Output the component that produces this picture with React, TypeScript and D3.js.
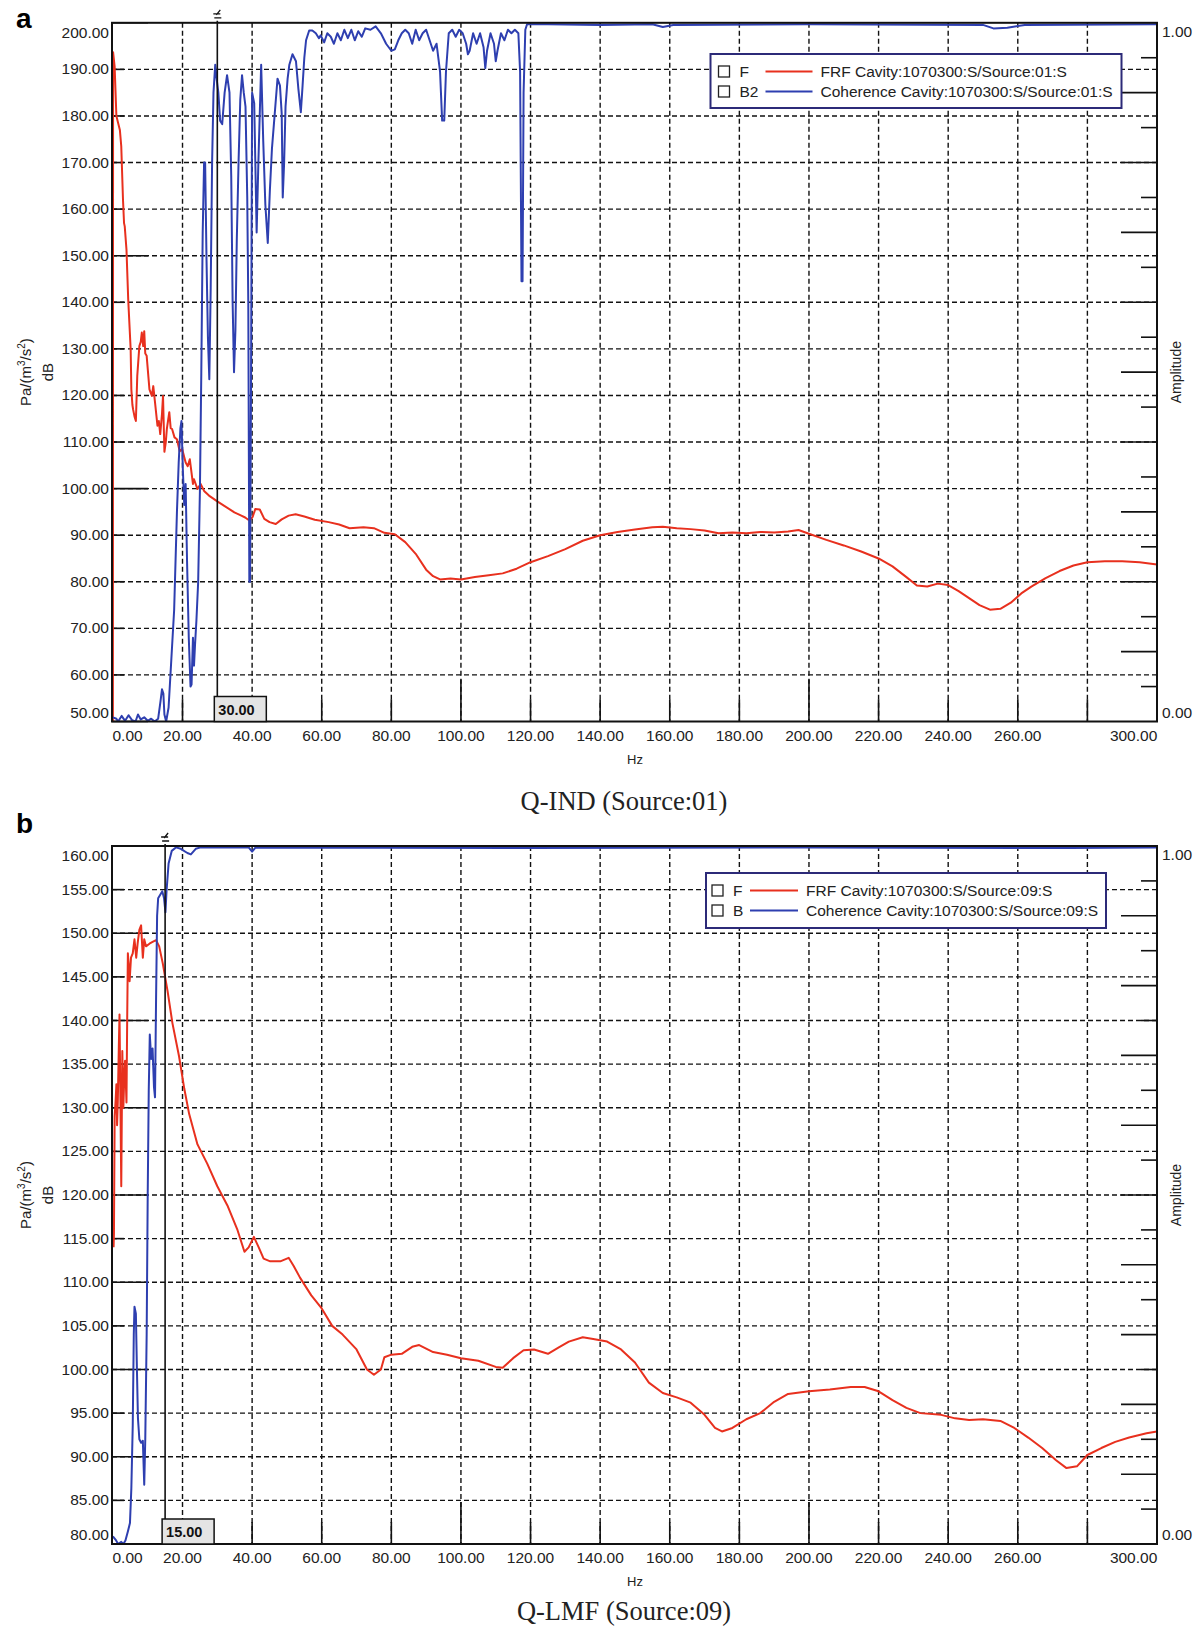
import React from "react";
import * as d3 from "d3";

// ---- panel a : Q-IND (Source:01) ----
// FRF [Hz, dB]
const frfA: [number, number][] = [
  [0, 49], [0.05, 193.7], [0.5, 190.6], [1, 180], [1.5, 178.5], [2, 177], [2.4, 173.5],
  [2.9, 162], [3.2, 157], [3.4, 156.3], [3.9, 151.3], [4.4, 140.6], [5.1, 129.9],
  [5.3, 121.3], [5.6, 118], [5.8, 117], [6.2, 115.5], [6.6, 114.5], [7, 124.2],
  [7.6, 130.6], [8, 131.5], [8.3, 133.5], [8.7, 130.6], [9, 133.8], [9.3, 129],
  [9.7, 128.5], [10.2, 124], [10.5, 121.3], [11.2, 119.9], [11.6, 122], [12.1, 118.5],
  [12.8, 113.5], [13.2, 114.5], [13.6, 111.7], [14.1, 116], [14.4, 119.9], [14.8, 107.9],
  [15.2, 110], [15.5, 112.8], [16.2, 116.4], [16.6, 113], [17, 112.8], [17.7, 111],
  [18.4, 110.6], [19.2, 108], [19.9, 108.5], [20.9, 105.6], [21.5, 104.8], [22.1, 106.3],
  [23, 101], [23.3, 102], [24.3, 99.9], [25.2, 101], [26.2, 99.5], [27.6, 98.5],
  [30.1, 97.2], [32, 96.3], [34.9, 94.9], [36.9, 94.2], [38, 93.8], [39.3, 93.1],
  [40.2, 94], [40.9, 95.6], [42.2, 95.5], [43.5, 93.5], [45, 92.8], [46.8, 92.4],
  [48.5, 93.4], [50.5, 94.2], [52.5, 94.5], [55, 94], [58, 93.3], [62, 92.8], [65, 92.3],
  [68, 91.5], [72, 91.7], [75, 91.5], [78, 90.5], [81, 90.2], [84, 88.5], [87, 86],
  [90, 82.6], [92, 81.2], [94, 80.5], [97, 80.7], [100, 80.5], [104, 81], [108, 81.4],
  [112, 81.8], [116, 82.8], [120, 84.2], [125, 85.5], [130, 87], [135, 88.8], [140, 90],
  [145, 90.7], [150, 91.2], [155, 91.7], [158, 91.8], [162, 91.5], [166, 91.3], [170, 91],
  [174, 90.4], [178, 90.6], [182, 90.4], [186, 90.7], [190, 90.6], [194, 90.8], [197, 91.1],
  [200, 90.3], [205, 89], [210, 87.8], [215, 86.5], [220, 85], [224, 83.3], [228, 81],
  [231, 79.2], [234, 79], [237, 79.6], [240, 79.3], [243, 78], [246, 76.5], [249, 75],
  [252, 74], [255, 74.2], [258, 75.5], [261, 77.5], [264, 79], [268, 80.8], [272, 82.3],
  [276, 83.5], [280, 84.2], [285, 84.4], [290, 84.4], [295, 84.2], [300, 83.7],
];

// Coherence [Hz, amplitude]
const cohA: [number, number][] = [
  [0, 0.006], [1, 0.004], [1.5, 0.0], [2.5, 0.008], [3.5, 0.001], [4.5, 0.009], [5.5, 0.002],
  [6.5, 0.0], [7.2, 0.01], [8, 0.003], [9, 0.006], [10, 0.001], [11, 0.004], [12, 0.0],
  [13, 0.004], [13.7, 0.03], [14.1, 0.046], [14.5, 0.04], [14.8, 0.01], [15.3, 0.0],
  [16, 0.02], [16.8, 0.09], [17.6, 0.16], [18.4, 0.3], [18.9, 0.37], [19.4, 0.42],
  [19.7, 0.43], [20.1, 0.36], [20.5, 0.31], [20.9, 0.34], [21.3, 0.23], [21.8, 0.12],
  [22.3, 0.05], [22.6, 0.053], [23, 0.12], [23.3, 0.08], [23.6, 0.11], [24, 0.145],
  [24.5, 0.2], [25, 0.33], [25.4, 0.5], [25.8, 0.7], [26.2, 0.8], [26.5, 0.8], [26.9, 0.66],
  [27.3, 0.55], [27.7, 0.49], [28.1, 0.62], [28.5, 0.8], [28.9, 0.9], [29.4, 0.94],
  [29.8, 0.92], [30.3, 0.9], [30.8, 0.86], [31.4, 0.855], [32.1, 0.9], [32.8, 0.925],
  [33.5, 0.9], [34, 0.78], [34.4, 0.6], [34.8, 0.5], [35.2, 0.56], [35.6, 0.69], [36.1, 0.8],
  [36.6, 0.89], [37.1, 0.925], [37.6, 0.9], [38.1, 0.88], [38.6, 0.75], [38.9, 0.6],
  [39.2, 0.2], [39.4, 0.2], [39.7, 0.5], [40, 0.9], [40.6, 0.885], [41.3, 0.7], [41.8, 0.8],
  [42.6, 0.94], [43.2, 0.83], [43.8, 0.74], [44.5, 0.685], [45.1, 0.76], [45.7, 0.82],
  [46.5, 0.87], [47.3, 0.92], [48, 0.91], [48.5, 0.87], [48.8, 0.75], [49.2, 0.8],
  [49.6, 0.88], [50.2, 0.92], [50.7, 0.94], [51.6, 0.955], [52.6, 0.945], [53.3, 0.905],
  [54, 0.872], [54.5, 0.91], [55, 0.95], [55.5, 0.975], [56.4, 0.989], [57.3, 0.989],
  [58.3, 0.985], [59.2, 0.978], [59.7, 0.982], [60.7, 0.972], [61.6, 0.985], [62.6, 0.98],
  [63.5, 0.97], [64.5, 0.985], [65.5, 0.975], [66.5, 0.99], [67.5, 0.978], [68.5, 0.99],
  [69.5, 0.975], [70.5, 0.988], [71.5, 0.98], [72.5, 0.992], [74, 0.99], [75.5, 0.995],
  [77, 0.985], [78.5, 0.97], [80, 0.96], [81, 0.962], [82, 0.975], [83, 0.985], [84, 0.99],
  [85, 0.985], [86, 0.97], [87, 0.99], [88, 0.975], [89, 0.985], [90, 0.99], [91, 0.975],
  [92, 0.96], [93, 0.97], [94, 0.93], [94.6, 0.86], [95.2, 0.86], [95.7, 0.93], [96.5, 0.985],
  [97.5, 0.99], [98.5, 0.98], [99.5, 0.99], [100.5, 0.985], [101.5, 0.97], [102, 0.955],
  [102.5, 0.96], [103.5, 0.985], [104.5, 0.97], [105.5, 0.985], [106.5, 0.965], [107, 0.935],
  [107.5, 0.96], [108.5, 0.985], [109.5, 0.97], [110, 0.945], [110.5, 0.96], [111.5, 0.985],
  [112.5, 0.975], [113.5, 0.99], [114.5, 0.985], [115.5, 0.99], [116.5, 0.985], [117, 0.93],
  [117.4, 0.63], [117.7, 0.63], [118, 0.9], [118.5, 0.99], [119, 0.998], [125, 0.998],
  [140, 0.997], [155, 0.998], [158, 0.994], [161, 0.997], [200, 0.998], [250, 0.997],
  [253, 0.992], [257, 0.993], [262, 0.997], [300, 0.998],
];

// ---- panel b : Q-LMF (Source:09) ----
const frfB: [number, number][] = [
  [0.2, 114], [0.3, 115.6], [0.5, 129], [0.8, 131], [1, 132.7], [1.2, 128], [1.4, 130.6],
  [1.7, 137], [1.9, 140.7], [2.1, 133], [2.4, 121], [2.7, 136.5], [3, 130], [3.3, 134],
  [3.5, 135.4], [3.9, 130.6], [4.1, 140], [4.3, 147.7], [4.6, 146], [4.8, 144.5],
  [5.2, 147.2], [5.7, 147.7], [6.2, 149.3], [6.7, 147.2], [7.1, 148.8], [7.6, 150.4],
  [8.1, 150.9], [8.6, 147.2], [9, 149.3], [9.5, 148.5], [10.5, 148.8], [11.4, 149],
  [12.4, 149.2], [13.3, 148.5], [14.3, 146.6], [15.7, 143.4], [17.1, 139.7], [19, 135.9],
  [20.5, 132.2], [21.9, 129.3], [24.3, 125.8], [27.1, 123.6], [30, 121], [32.9, 118.8],
  [35.7, 116.1], [37.8, 113.5], [39, 114], [40.5, 115.2], [41.9, 114], [43.3, 112.7],
  [45.2, 112.4], [48.1, 112.4], [50.5, 112.8], [51.9, 111.9], [53.8, 110.5], [57, 108.5],
  [60, 107], [63, 105], [66, 104], [70, 102.3], [73, 100], [75, 99.4], [77, 100],
  [78, 101.4], [80, 101.7], [83, 101.8], [86, 102.6], [88, 102.8], [92, 102], [96, 101.7],
  [100, 101.3], [105, 101], [110, 100.3], [112, 100.2], [115, 101.3], [118, 102.2],
  [121, 102.3], [125, 101.8], [128, 102.5], [131, 103.2], [135, 103.7], [138, 103.5],
  [142, 103.2], [146, 102.3], [150, 100.8], [154, 98.5], [158, 97.3], [162, 96.8],
  [166, 96.2], [170, 94.8], [173, 93.3], [175, 92.9], [178, 93.3], [182, 94.3], [186, 95],
  [190, 96.3], [194, 97.2], [200, 97.5], [206, 97.7], [212, 98], [216, 98], [220, 97.5],
  [224, 96.5], [228, 95.6], [232, 95], [238, 94.8], [242, 94.4], [246, 94.2], [250, 94.3],
  [255, 94.1], [259, 93.3], [263, 92.2], [267, 91], [271, 89.6], [274, 88.7], [277, 88.9],
  [280, 90.2], [284, 91], [288, 91.7], [292, 92.2], [297, 92.7], [300, 92.9],
];

const cohB: [number, number][] = [
  [0, 0.011], [0.8, 0.006], [1.5, 0.0], [2.4, 0.003], [3, 0.0], [3.6, 0.005], [4.3, 0.018],
  [4.9, 0.03], [5.3, 0.08], [5.7, 0.17], [6, 0.3], [6.2, 0.34], [6.6, 0.33], [6.9, 0.25],
  [7.2, 0.18], [7.6, 0.15], [8.1, 0.145], [8.6, 0.148], [9, 0.085], [9.3, 0.15], [9.7, 0.3],
  [10, 0.5], [10.3, 0.65], [10.6, 0.73], [11, 0.695], [11.4, 0.71], [11.8, 0.655],
  [12.1, 0.64], [12.4, 0.78], [12.7, 0.9], [13, 0.925], [13.6, 0.93], [14.2, 0.935],
  [14.7, 0.925], [15.1, 0.905], [15.4, 0.935], [16, 0.975], [16.9, 0.993], [18.1, 0.998],
  [19.5, 0.996], [21.4, 0.99], [22.4, 0.988], [23.8, 0.996], [25.2, 0.998], [39, 0.998],
  [40, 0.992], [41, 0.998], [120, 0.997], [200, 0.998], [275, 0.997], [300, 0.998],
];

// axis ticks
const xLabelHz = [0, 20, 40, 60, 80, 100, 120, 140, 160, 180, 200, 220, 240, 260, 300];
const xGridHz = [20, 40, 60, 80, 100, 120, 140, 160, 180, 200, 220, 240, 260, 280];
const yTicksA = [50, 60, 70, 80, 90, 100, 110, 120, 130, 140, 150, 160, 170, 180, 190, 200];
const yTicksB = [80, 85, 90, 95, 100, 105, 110, 115, 120, 125, 130, 135, 140, 145, 150, 155, 160];

const RED = "#e8301e";
const BLUE = "#2e3fb0";
const SANS = "'Liberation Sans', Arial, sans-serif";
const X0 = 112;
const X1 = 1157;

function Panel({ top, bottom, yDomain, yTicks, yMajor, frf, coh, cursorHz, letter, letterY,
  caption, legend, unit }: any) {
  const x = d3.scaleLinear().domain([-0.26, 300]).range([X0, X1]);
  const y = d3.scaleLinear().domain(yDomain).range([bottom, top]);
  const amp = d3.scaleLinear().domain([0, 1]).range([bottom, top]);
  const lineF = d3.line<[number, number]>().x((d) => x(d[0])).y((d) => y(d[1]));
  const lineC = d3.line<[number, number]>().x((d) => x(d[0])).y((d) => amp(d[1]));
  const clip = `clip-${letter}`;
  const cy = (top + bottom) / 2;
  const cx = x(cursorHz);
  const fmt = d3.format(".2f");
  const lblY = (v: number) => Math.min(Math.max(y(v), top + 10), bottom - 9) + 5;

  return (
    <g>
      <defs>
        <clipPath id={clip}>
          <rect x={X0} y={top} width={X1 - X0} height={bottom - top} />
        </clipPath>
      </defs>
      <text x={16} y={letterY} fontFamily={SANS} fontWeight="bold" fontSize={28}>{letter}</text>

      {/* grid */}
      <g stroke="#111" strokeWidth={1.4} strokeDasharray="5,3">
        {yTicks.filter((v: number) => v !== yDomain[0] && v !== yDomain[1]).map((v: number) => (
          <line key={"h" + v} x1={X0} x2={X1} y1={y(v)} y2={y(v)} />
        ))}
        {xGridHz.map((v) => (
          <line key={"v" + v} x1={x(v)} x2={x(v)} y1={top} y2={bottom} />
        ))}
      </g>

      {/* tick marks */}
      <g stroke="#111" strokeWidth={1.6}>
        {yTicks.map((v: number) => (
          <line key={"lt" + v} x1={X0} x2={X0 + (v % yMajor === 0 ? 36 : 12)} y1={y(v)} y2={y(v)} />
        ))}
        {xGridHz.map((v) => (
          <line key={"bt" + v} x1={x(v)} x2={x(v)} y1={bottom} y2={bottom - (v % 100 === 0 ? 42 : 22)} />
        ))}
        {amp.ticks(20).filter((t) => t > 0 && t < 1).map((t, i) => (
          <line key={"rt" + i} x1={X1} x2={X1 - (i % 2 === 1 ? 36 : 16)} y1={amp(t)} y2={amp(t)} />
        ))}
      </g>

      {/* curves */}
      <g clipPath={`url(#${clip})`} fill="none" strokeWidth={2} strokeLinejoin="round">
        <path d={lineF(frf) || ""} stroke={RED} />
        <path d={lineC(coh) || ""} stroke={BLUE} />
      </g>

      {/* frame */}
      <rect x={X0} y={top} width={X1 - X0} height={bottom - top} fill="none" stroke="#111" strokeWidth={2} />

      {/* left tick labels */}
      <g fontFamily={SANS} fontSize={15.5} fill="#222" textAnchor="end">
        {yTicks.map((v: number) => (
          <text key={"yl" + v} x={X0 - 3} y={lblY(v)}>{fmt(v)}</text>
        ))}
      </g>
      {/* bottom tick labels */}
      <g fontFamily={SANS} fontSize={15.5} fill="#222">
        {xLabelHz.map((v) => {
          const w = fmt(v).length * 7.8;
          const c = Math.min(Math.max(x(v), X0 + w / 2), X1 - w / 2);
          return (
            <text key={"xl" + v} x={c} y={bottom + 19} textAnchor="middle">{fmt(v)}</text>
          );
        })}
      </g>
      <text x={635} y={bottom + 42} fontFamily={SANS} fontSize={13} fill="#222" textAnchor="middle">Hz</text>

      {/* right amplitude axis */}
      <g fontFamily={SANS} fontSize={15.5} fill="#222">
        <text x={X1 + 5} y={top + 14}>1.00</text>
        <text x={X1 + 5} y={bottom - 4}>0.00</text>
      </g>
      <text transform={`translate(1181,${cy}) rotate(-90)`} textAnchor="middle"
        fontFamily={SANS} fontSize={14} fill="#222">Amplitude</text>

      {/* left axis title */}
      <text transform={`translate(31,${cy}) rotate(-90)`} textAnchor="middle"
        fontFamily={SANS} fontSize={15} fill="#222">
        Pa/(m<tspan dy={-6} fontSize={10}>3</tspan><tspan dy={6}>/s</tspan>
        <tspan dy={-6} fontSize={10}>2</tspan><tspan dy={6}>)</tspan>
      </text>
      <text transform={`translate(53,${cy}) rotate(-90)`} textAnchor="middle"
        fontFamily={SANS} fontSize={15} fill="#222">{unit}</text>

      {/* legend */}
      <g fontFamily={SANS} fontSize={15.5} fill="#222">
        <rect x={legend.x} y={legend.y} width={legend.w} height={legend.h} fill="#fff"
          stroke="#2c2a78" strokeWidth={2} />
        {legend.rows.map((r: any, i: number) => {
          const ry = legend.y + 17.5 + i * 20;
          return (
            <g key={"lg" + i}>
              <rect x={legend.x + legend.box} y={ry - 5.5} width={11} height={11} fill="#fff" stroke="#222" strokeWidth={1.3} />
              <text x={legend.x + legend.tag} y={ry + 5.5}>{r.tag}</text>
              <line x1={legend.x + legend.l0} x2={legend.x + legend.l1} y1={ry} y2={ry} stroke={r.color} strokeWidth={2} />
              <text x={legend.x + legend.txt} y={ry + 5.5}>{r.label}</text>
            </g>
          );
        })}
      </g>

      {/* cursor */}
      <g stroke="#111" strokeWidth={1.6} fill="none">
        <line x1={cx} x2={cx} y1={top - 2} y2={bottom - 25} />
        <path d={`M${cx - 4},${top - 9} L${cx + 3},${top - 9} M${cx - 3},${top - 5} L${cx + 4},${top - 5} M${cx + 3},${top - 13} L${cx - 1},${top - 8}`} strokeWidth={1.3} />
      </g>
      <rect x={cx - 3} y={bottom - 25} width={52} height={25} fill="#e4e4e4" stroke="#111" strokeWidth={1.5} />
      <text x={cx + 1} y={bottom - 7} fontFamily={SANS} fontSize={14.5} fontWeight="bold" fill="#111">{fmt(cursorHz)}</text>

      <text x={624} y={caption.y} fontFamily="'Liberation Serif', 'Times New Roman', serif" fontSize={26.5}
        fill="#222" textAnchor="middle">{caption.text}</text>
    </g>
  );
}

export default function App() {
  return (
    <svg width={1200} height={1628} style={{ position: "absolute", left: 0, top: 0, background: "#fff" }}>
      <rect width={1200} height={1628} fill="#fff" />
      <Panel top={22.8} bottom={721.5} yDomain={[50, 200]} yTicks={yTicksA} yMajor={50}
        frf={frfA} coh={cohA} cursorHz={30} letter="a" letterY={28} unit="dB"
        caption={{ text: "Q-IND (Source:01)", y: 810 }}
        legend={{
          x: 710.5, y: 54, w: 411, h: 54, box: 8, tag: 29, l0: 55, l1: 102, txt: 110,
          rows: [
            { tag: "F", color: RED, label: "FRF Cavity:1070300:S/Source:01:S" },
            { tag: "B2", color: BLUE, label: "Coherence Cavity:1070300:S/Source:01:S" },
          ],
        }} />
      <Panel top={846} bottom={1544} yDomain={[80, 160]} yTicks={yTicksB} yMajor={10}
        frf={frfB} coh={cohB} cursorHz={15} letter="b" letterY={833} unit="dB"
        caption={{ text: "Q-LMF (Source:09)", y: 1620 }}
        legend={{
          x: 706, y: 873, w: 400, h: 55, box: 6, tag: 27, l0: 44, l1: 92, txt: 100,
          rows: [
            { tag: "F", color: RED, label: "FRF Cavity:1070300:S/Source:09:S" },
            { tag: "B", color: BLUE, label: "Coherence Cavity:1070300:S/Source:09:S" },
          ],
        }} />
    </svg>
  );
}
